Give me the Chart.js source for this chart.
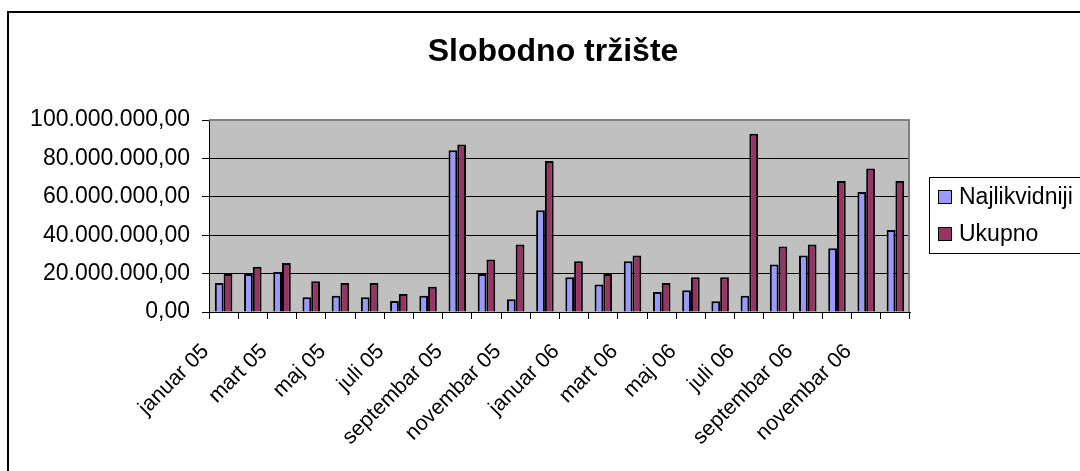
<!DOCTYPE html>
<html>
<head>
<meta charset="utf-8">
<script src="https://cdn.jsdelivr.net/npm/chart.js@4/dist/chart.umd.min.js"></script>
<style>
  html, body { margin: 0; padding: 0; background: #fff; }
  canvas { display: block; }
</style>
</head>
<body>
<canvas id="c" width="1080" height="471"></canvas>
<script>
const categories = ['januar 05','februar 05','mart 05','april 05','maj 05','juni 05','juli 05','avgust 05','septembar 05','oktobar 05','novembar 05','decembar 05',
                    'januar 06','februar 06','mart 06','april 06','maj 06','juni 06','juli 06','avgust 06','septembar 06','oktobar 06','novembar 06','decembar 06'];
const najlikvidniji = [15100000, 19800000, 20800000, 7700000, 8500000, 7700000, 5700000, 8500000, 84200000, 19800000, 6600000, 53000000,
                       18100000, 14300000, 26400000, 10400000, 11300000, 5600000, 8500000, 24700000, 29400000, 33200000, 62500000, 42700000];
const ukupno = [19800000, 23600000, 25500000, 16000000, 15100000, 15100000, 9400000, 13200000, 87200000, 27400000, 35100000, 78600000,
                26400000, 19800000, 29400000, 15100000, 18100000, 18100000, 92900000, 34100000, 35100000, 68200000, 74800000, 68200000];
const seriesNames = ['Najlikvidniji', 'Ukupno'];
const chartTitle = 'Slobodno tržište';
const yMax = 100000000;
const yStep = 20000000;

const FONT = '"Liberation Sans", Arial, sans-serif';

function fmt(v) {
  const s = Math.round(v).toString().replace(/\B(?=(\d{3})+(?!\d))/g, '.');
  return s + ',00';
}

const decor = {
  id: 'decor',
  beforeDraw(chart) {
    const ctx = chart.ctx, a = chart.chartArea;
    ctx.save();
    ctx.fillStyle = '#fff';
    ctx.fillRect(0, 0, chart.width, chart.height);
    ctx.strokeStyle = '#000';
    ctx.lineWidth = 2;
    ctx.beginPath();
    ctx.moveTo(8, chart.height + 5);
    ctx.lineTo(8, 12);
    ctx.lineTo(chart.width + 5, 12);
    ctx.stroke();
    ctx.fillStyle = '#C0C0C0';
    ctx.fillRect(a.left, a.top, a.right - a.left, a.bottom - a.top);
    ctx.restore();
  },
  beforeDatasetsDraw(chart) {
    const ctx = chart.ctx, a = chart.chartArea;
    ctx.save();
    ctx.strokeStyle = '#808080';
    ctx.lineWidth = 2;
    ctx.beginPath();
    ctx.moveTo(a.left, a.top);
    ctx.lineTo(a.right - 1, a.top);
    ctx.lineTo(a.right - 1, a.bottom);
    ctx.stroke();
    ctx.restore();
  },
  afterDraw(chart) {
    const ctx = chart.ctx;
    ctx.save();
    ctx.fillStyle = '#000';
    ctx.font = 'bold 32px ' + FONT;
    ctx.textAlign = 'center';
    ctx.textBaseline = 'middle';
    ctx.fillText(chartTitle, 553, 52);
    ctx.strokeStyle = '#000';
    ctx.lineWidth = 1;
    ctx.strokeRect(929.5, 177.5, 160, 76);
    ctx.font = '23px ' + FONT;
    ctx.textAlign = 'left';
    chart.data.datasets.forEach((ds, i) => {
      const y = 198 + i * 37;
      ctx.fillStyle = ds.backgroundColor;
      ctx.fillRect(938.5, y - 7.5, 13, 13);
      ctx.strokeRect(938.5, y - 7.5, 13, 13);
      ctx.fillStyle = '#000';
      ctx.fillText(ds.label, 959, y);
    });
    ctx.restore();
  }
};

new Chart(document.getElementById('c'), {
  type: 'bar',
  data: {
    labels: categories,
    datasets: [
      { label: seriesNames[0], data: najlikvidniji, backgroundColor: '#9999FF', borderColor: '#000', borderWidth: 2,
        categoryPercentage: 0.6, barPercentage: 1.0 },
      { label: seriesNames[1], data: ukupno, backgroundColor: '#993366', borderColor: '#000', borderWidth: 2,
        categoryPercentage: 0.6, barPercentage: 1.0 }
    ]
  },
  options: {
    responsive: false,
    animation: false,
    devicePixelRatio: 1,
    layout: { padding: { top: 120, right: 170, bottom: 0, left: 0 } },
    plugins: {
      legend: { display: false },
      title: { display: false },
      tooltip: { enabled: false }
    },
    scales: {
      x: {
        grid: { offset: true, drawOnChartArea: false, drawTicks: true, tickLength: 7, color: '#000' },
        border: { color: '#000', width: 1 },
        ticks: {
          autoSkip: false, minRotation: 45, maxRotation: 45, color: '#000',
          font: { family: FONT, size: 21.5 }, padding: 20, labelOffset: -18,
          callback: (v, i) => (i % 2 === 0 ? categories[i] : '')
        },
        afterFit: s => { s.height = 159; }
      },
      y: {
        min: 0, max: yMax,
        grid: { color: c => (c.tick && c.tick.value === yMax ? '#808080' : '#000'), tickLength: 7, tickColor: '#000' },
        border: { color: '#000', width: 1 },
        ticks: { stepSize: yStep, color: '#000', font: { family: FONT, size: 23 }, padding: 12, callback: v => fmt(v) },
        afterFit: s => { s.width = 209; }
      }
    }
  },
  plugins: [decor]
});
</script>
</body>
</html>
